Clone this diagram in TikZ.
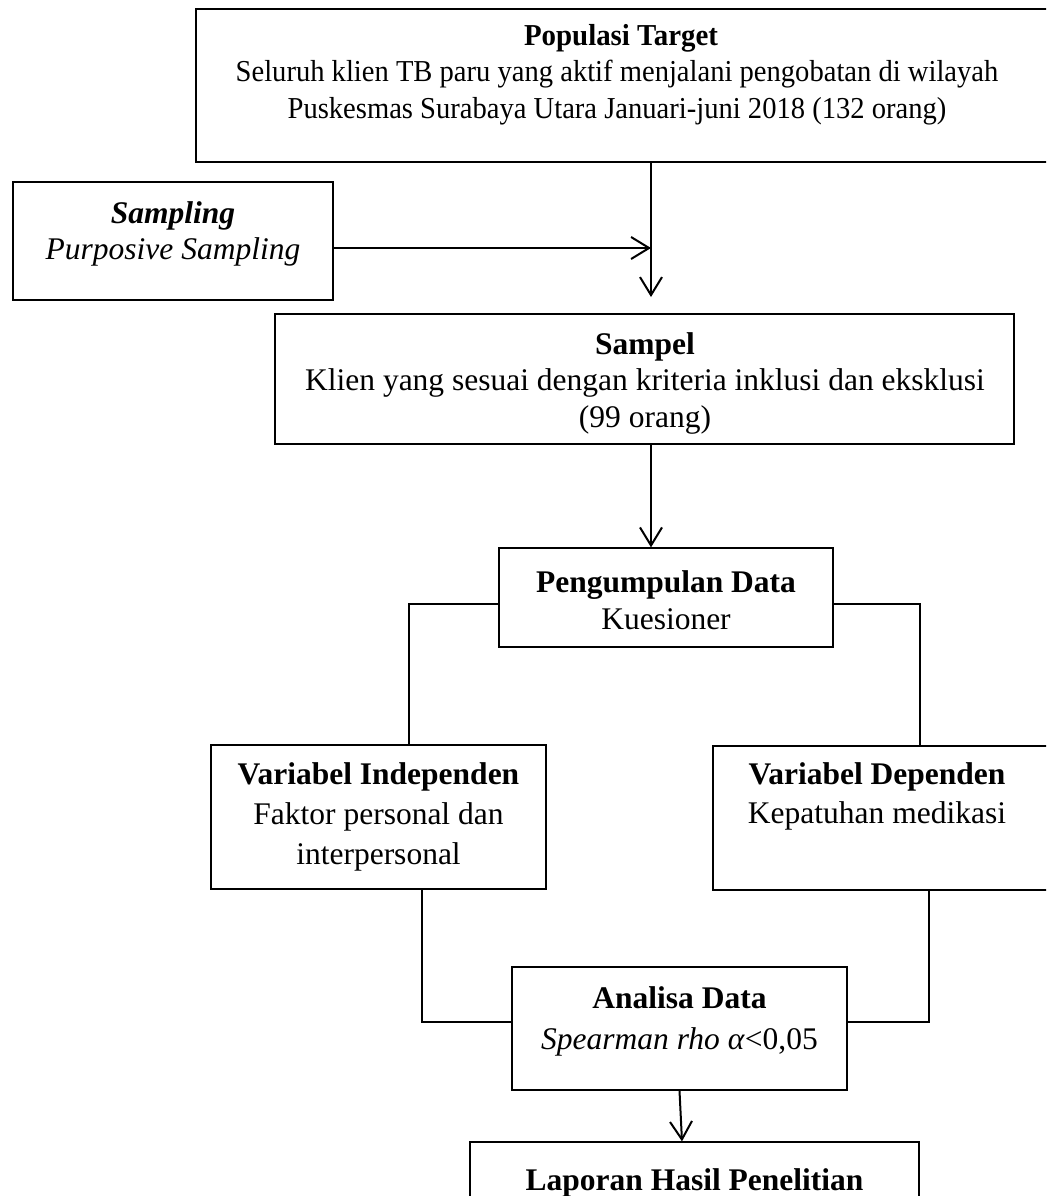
\documentclass[tikz,border=0pt]{standalone}
\usepackage{fontspec}
\setmainfont{Liberation Serif}
\usetikzlibrary{arrows.meta,calc}
\begin{document}
\begin{tikzpicture}[x=0.5pt,y=-0.5pt,
  box/.style={draw, line width=0.65pt, rectangle, inner sep=0pt},
  heavybox/.style={box, line width=1pt},
  txt/.style={anchor=base, inner sep=0pt, font=\fontsize{15.75}{18.5}\selectfont},
  smalltxt/.style={txt, font=\fontsize{15.2}{18}\selectfont},
  link/.style={line width=0.75pt},
  arr/.style={line width=1pt, -{Straight Barb[length=9pt,width=11pt]}}]
\useasboundingbox (0,0) rectangle (1046,1196);
\clip (0,0) rectangle (1046,1196);

% boxes (centre and size in pixel units of the page)
\node[heavybox, minimum width=427pt, minimum height=76.5pt] (pop) at (623,85.5) {};
\node[box, minimum width=160pt, minimum height=59pt] (samp) at (173,241) {};
\node[heavybox, minimum width=369.5pt, minimum height=65pt] (sampel) at (644.5,379) {};
\node[box, minimum width=167pt, minimum height=49.5pt] (peng) at (666,597.5) {};
\node[box, minimum width=167.5pt, minimum height=72pt] (vi) at (378.5,817) {};
\node[box, minimum width=168.5pt, minimum height=72pt] (vd) at (881.5,818) {};
\node[box, minimum width=167.5pt, minimum height=61.5pt] (ana) at (679.5,1028.5) {};
\node[box, minimum width=224.5pt, minimum height=50pt] (lap) at (694.5,1192) {};

% box texts, one node per printed line (the top box is set slightly condensed)
\node[smalltxt] (popa) at (621,45) {\scalebox{0.95}[1]{\textbf{Populasi Target}}};
\node[smalltxt] (popb) at (617,81.5) {\scalebox{0.94}[1]{Seluruh klien TB paru yang aktif menjalani pengobatan di wilayah}};
\node[smalltxt] (popc) at (617,118) {\scalebox{0.94}[1]{Puskesmas Surabaya Utara Januari-juni 2018 (132 orang)}};

\node[txt] (sampa) at (173,223) {\textbf{\textit{Sampling}}};
\node[txt] (sampb) at (173,259) {\textit{Purposive Sampling}};

\node[txt] (sampela) at (645,354) {\textbf{Sampel}};
\node[txt] (sampelb) at (645,390.5) {Klien yang sesuai dengan kriteria inklusi dan eksklusi};
\node[txt] (sampelc) at (645,427) {(99 orang)};

\node[txt] (penga) at (666,592) {\textbf{Pengumpulan Data}};
\node[txt] (pengb) at (666,629) {Kuesioner};

\node[txt] (via) at (378.5,784) {\textbf{Variabel Independen}};
\node[txt] (vib) at (378.5,824) {Faktor personal dan};
\node[txt] (vic) at (378.5,864) {interpersonal};

\node[txt] (vda) at (877,784) {\textbf{Variabel Dependen}};
\node[txt] (vdb) at (877,823) {Kepatuhan medikasi};

\node[txt] (anaa) at (679.5,1008) {\textbf{Analisa Data}};
\node[txt] (anab) at (679.5,1049) {\textit{Spearman rho α}<0,05};

\node[txt] (lapa) at (694.5,1190) {\textbf{Laporan Hasil Penelitian}};

% connector routing points
\coordinate (c1) at (651,248);
\coordinate (pl) at (409,604);
\coordinate (pr) at (920,604);
\coordinate (ql) at (422,1022);
\coordinate (qr) at (929,1022);
\coordinate (tip) at (682,0);

% connectors
\draw[arr] (pop.south -| c1) -- ($(sampel.north -| c1)+(0,-16)$);
\draw[arr] (samp.east |- c1) -- (c1);
\draw[arr] (sampel.south -| c1) -- (peng.north -| c1);
\draw[link] (peng.west |- pl) -| (vi.north -| pl);
\draw[link] (peng.east |- pr) -| (vd.north -| pr);
\draw[link] (vi.south -| ql) |- (ana.west |- ql);
\draw[link] (vd.south -| qr) |- (ana.east |- qr);
\draw[arr] (ana.south) -- (lap.north -| tip);
\end{tikzpicture}
\end{document}
